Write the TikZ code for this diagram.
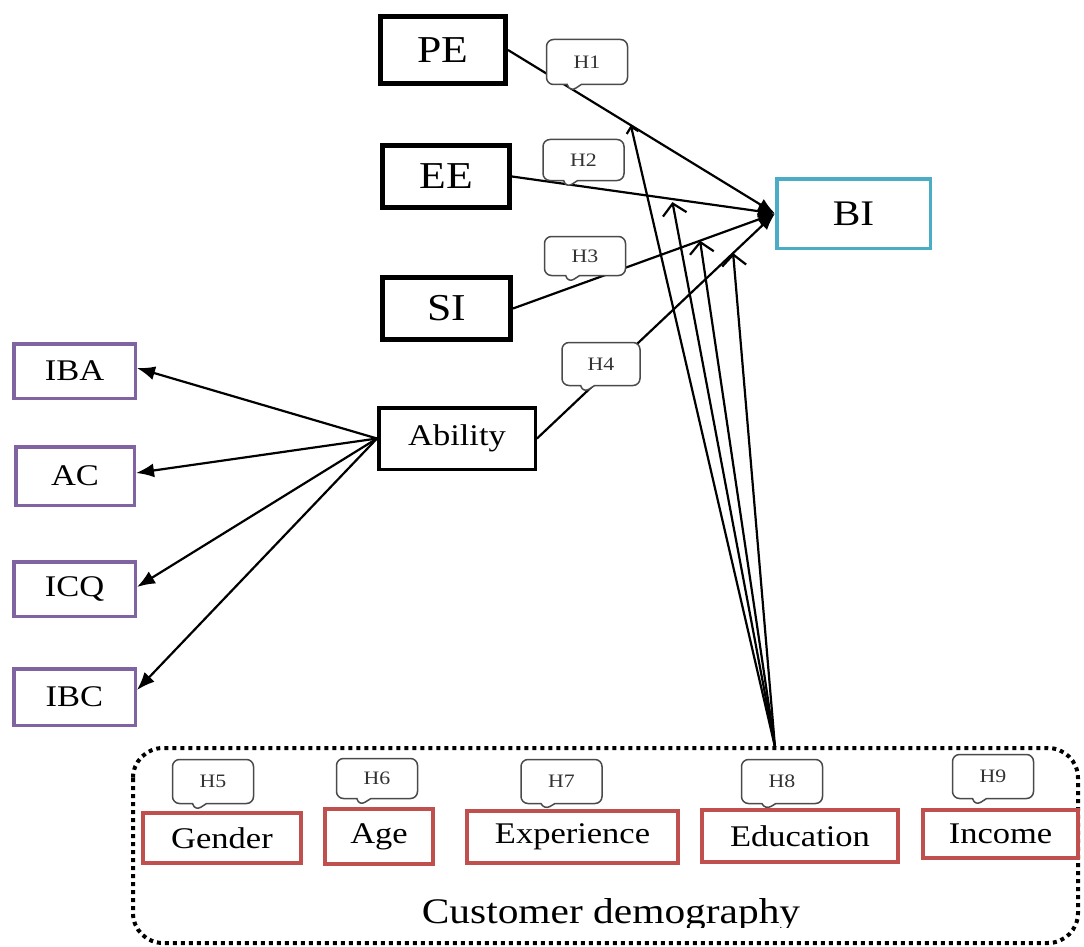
\documentclass[tikz,border=0pt]{standalone}
\usepackage{fontspec}
\setmainfont{Liberation Serif}[FakeStretch=1.15]
\usetikzlibrary{arrows.meta,shapes.callouts,calc}
\definecolor{biblue}{HTML}{4BACC6}
\definecolor{indpurple}{HTML}{8064A2}
\definecolor{demored}{HTML}{C0504D}
\definecolor{tagline}{HTML}{4A4A4A}
\definecolor{tagtext}{HTML}{333333}
\begin{document}
\begin{tikzpicture}[x=1pt,y=-1pt,
  box/.style={rectangle, inner sep=0pt, align=center, fill=white},
  construct/.style={box, draw=black, line width=5pt, font=\fontsize{38}{40}\selectfont},
  ability/.style={box, draw=black, line width=3.5pt, font=\fontsize{30}{32}\selectfont},
  target/.style={box, draw=biblue, line width=3.5pt, font=\fontsize{36}{38}\selectfont},
  indicator/.style={box, draw=indpurple, line width=3.5pt, font=\fontsize{30}{32}\selectfont},
  demo/.style={box, draw=demored, line width=4pt, font=\fontsize{30}{32}\selectfont},
  hyp/.style={rectangle callout, rounded corners=7pt, draw=tagline, line width=1.5pt,
    fill=white, inner sep=0pt, minimum width=81pt, minimum height=44pt,
    callout pointer width=14pt, text=tagtext, font=\fontsize{19}{20}\selectfont},
  inarrow/.style={line width=2.2pt, -{Latex[length=17pt,width=13pt]}},
  outarrow/.style={line width=2.2pt, -{Latex[length=18pt,width=14pt]}},
  modarrow/.style={line width=2.2pt, -{Straight Barb[length=11pt,width=24pt]}},
  demobox/.style={draw=black, line width=4pt, dash pattern=on 4pt off 4pt, rounded corners=30pt}
]
\useasboundingbox (0,0) rectangle (1084,947);

% group frame for the demographic moderators
\draw[demobox] (133,748) rectangle (1078,943);

% constructs
\node[construct, minimum width=125pt, minimum height=67pt] (pe) at (443,50) {PE};
\node[construct, minimum width=127pt, minimum height=62pt] (ee) at (446,176.5) {EE};
\node[construct, minimum width=128pt, minimum height=62pt] (si) at (446.5,308.5) {SI};
\node[ability, minimum width=156.5pt, minimum height=61.5pt] (ab) at (457,438.5) {Ability};
\node[target, minimum width=153.5pt, minimum height=69.5pt] (bi) at (853.5,213.5) {BI};

% indicators of ability
\node[indicator, minimum width=121.5pt, minimum height=54.5pt] (iba) at (74.5,371) {IBA};
\node[indicator, minimum width=118.5pt, minimum height=58.5pt] (ac) at (75,476) {AC};
\node[indicator, minimum width=121.5pt, minimum height=54.5pt] (icq) at (74.5,589) {ICQ};
\node[indicator, minimum width=121.5pt, minimum height=56.5pt] (ibc) at (74.5,697) {IBC};

% demographic moderators
\node[demo, minimum width=158pt, minimum height=50pt] (gender) at (222,838) {Gender};
\node[demo, minimum width=108pt, minimum height=55pt] (age) at (379,836.5) {Age};
\node[demo, minimum width=211pt, minimum height=52pt] (exp) at (572.5,837) {Experience};
\node[demo, minimum width=196pt, minimum height=52pt] (edu) at (800,836) {Education};
\node[demo, minimum width=155pt, minimum height=48pt] (inc) at (1000.5,834) {Income};

% group caption, cut at the frame's lower band
\begin{scope}
  \clip (133,880) rectangle (1078,927);
  \node[anchor=base, inner sep=0pt, font=\fontsize{36}{38}\selectfont] (demolabel) at (611,923) {Customer demography};
\end{scope}

% paths into BI
\draw[inarrow] (pe.east) -- (bi.west);
\draw[inarrow] (ee.east) -- (bi.west);
\draw[inarrow] (si.east) -- (bi.west);
\draw[inarrow] (ab.east) -- (bi.west);

% ability to its indicators
\draw[outarrow] (ab.west) -- ([yshift=3pt]iba.east);
\draw[outarrow] (ab.west) -- ([yshift=3pt]ac.east);
\draw[outarrow] (ab.west) -- ([yshift=2pt]icq.east);
\draw[outarrow] (ab.west) -- ([yshift=7pt]ibc.east);

% moderating effects on the four paths
\coordinate (src) at (775,747);
\coordinate (t1) at ($(pe.east)!0.46!(bi.west)$);
\coordinate (t2) at ($(ee.east)!0.61!(bi.west)+(0,3)$);
\coordinate (t3) at ($(si.east)!0.714!(bi.west)$);
\coordinate (t4) at ($(ab.east)!0.824!(bi.west)$);
\draw[line width=2.2pt, -{Straight Barb[length=6pt,width=12pt]}] (src) -- (t1);
\draw[modarrow] (src) -- (t2);
\draw[modarrow] (src) -- (t3);
\draw[modarrow] (src) -- (t4);

% hypothesis tags
\node[hyp, minimum height=45pt, callout absolute pointer={(570,92)}] (h1) at (587,62) {H1};
\node[hyp, minimum height=41pt, callout absolute pointer={(566,188)}] (h2) at (583.5,160) {H2};
\node[hyp, minimum height=39pt, callout absolute pointer={(568,283)}] (h3) at (585,256) {H3};
\node[hyp, minimum width=78pt, minimum height=43pt, callout absolute pointer={(583,393)}] (h4) at (601,364) {H4};
\node[hyp, minimum height=44pt, callout absolute pointer={(195,811)}] (h5) at (213,781.5) {H5};
\node[hyp, minimum height=40pt, callout absolute pointer={(359,806)}] (h6) at (377,778.5) {H6};
\node[hyp, minimum height=44pt, callout absolute pointer={(544,810)}] (h7) at (561.5,781.5) {H7};
\node[hyp, minimum height=44pt, callout absolute pointer={(765,810)}] (h8) at (782,781.5) {H8};
\node[hyp, minimum height=44pt, callout absolute pointer={(975,806)}] (h9) at (993,776.5) {H9};
\end{tikzpicture}
\end{document}
